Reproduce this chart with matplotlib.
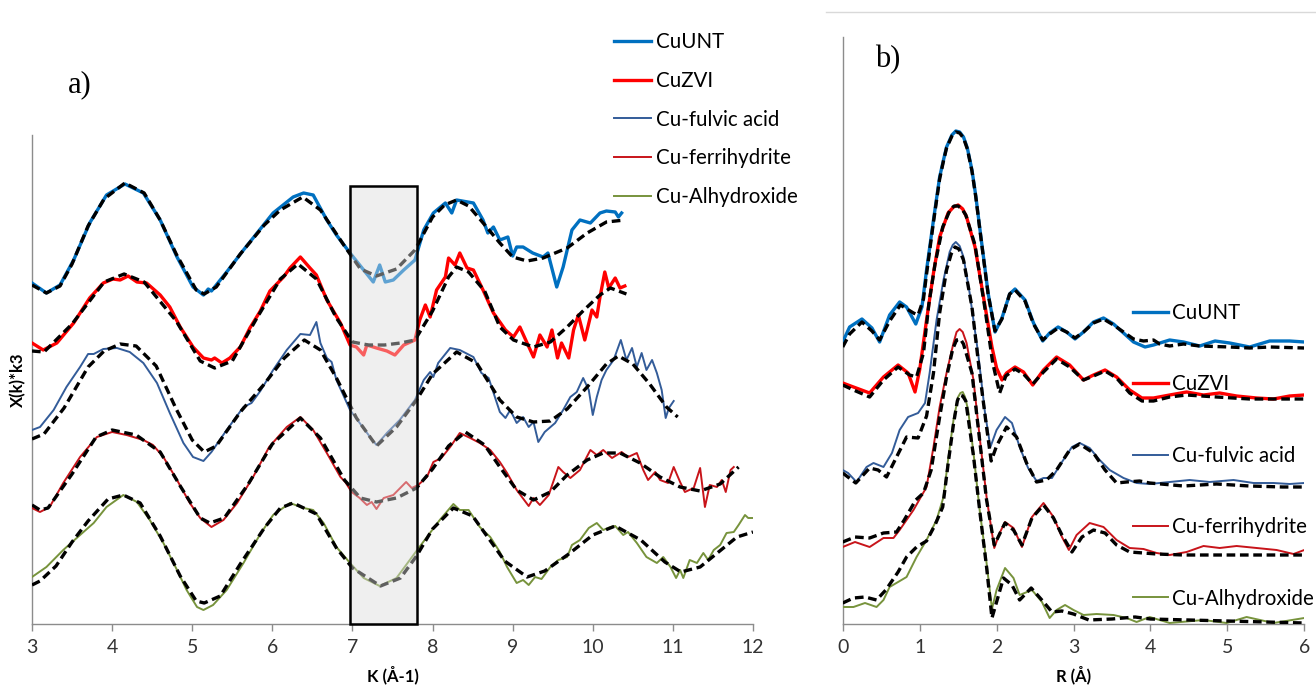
import matplotlib
matplotlib.use('Agg')
import matplotlib.pyplot as plt
from matplotlib.patches import Rectangle
from matplotlib.lines import Line2D

# ---- a) k-space EXAFS, k^3-weighted, offset stacked (arb. units) ----
k_unt = [3.00, 3.18, 3.35, 3.52, 3.72, 3.93, 4.16, 4.39, 4.60, 4.81, 5.01, 5.14, 5.20, 5.24, 5.43, 5.64,
         5.85, 6.01, 6.26, 6.39, 6.51, 6.68, 6.80, 6.97, 7.09, 7.26, 7.34, 7.41, 7.51, 7.64, 7.78, 7.89,
         8.01, 8.16, 8.24, 8.30, 8.51, 8.63, 8.69, 8.76, 8.84, 8.94, 9.00, 9.05, 9.13, 9.25, 9.38, 9.44,
         9.55, 9.63, 9.74, 9.84, 9.97, 10.09, 10.17, 10.28, 10.32, 10.36]
chi_unt = [34.1, 33.1, 33.9, 36.4, 40.1, 42.9, 44.0, 43.1, 40.4, 36.7, 33.7, 32.9, 33.5, 33.3, 35.2, 37.4,
           39.5, 41.1, 42.7, 43.1, 42.9, 40.4, 38.9, 37.1, 35.9, 34.2, 35.9, 34.2, 34.4, 35.4, 36.4, 39.4,
           41.1, 42.1, 41.1, 42.4, 42.1, 40.4, 39.1, 39.7, 38.4, 38.7, 36.8, 37.7, 37.7, 37.1, 36.7, 37.1,
           33.7, 35.7, 39.4, 40.4, 40.1, 41.1, 41.3, 41.2, 40.7, 41.1]
k_unt_fit = [3.00, 3.18, 3.35, 3.50, 3.70, 3.90, 4.16, 4.40, 4.60, 4.80, 5.05, 5.15, 5.30, 5.60, 5.90, 6.10,
             6.38, 6.60, 6.90, 7.10, 7.30, 7.55, 7.78, 8.00, 8.15, 8.30, 8.45, 8.60, 8.84, 9.00, 9.18, 9.38,
             9.68, 9.93, 10.17, 10.40]
chi_unt_fit = [33.9, 33.1, 33.8, 36.0, 39.8, 42.5, 44.1, 43.1, 40.4, 37.0, 33.4, 33.0, 33.7, 37.0, 39.9, 41.4,
               42.7, 41.4, 37.8, 35.5, 34.8, 35.5, 37.4, 40.7, 41.9, 42.4, 41.8, 40.4, 38.1, 36.7, 36.3, 36.6,
               37.6, 39.1, 40.2, 40.4]

k_zvi = [3.00, 3.14, 3.31, 3.52, 3.72, 3.89, 4.01, 4.10, 4.20, 4.31, 4.43, 4.60, 4.72, 4.85, 5.01, 5.14,
         5.24, 5.28, 5.37, 5.47, 5.60, 5.72, 5.85, 5.97, 6.14, 6.22, 6.35, 6.47, 6.55, 6.68, 6.85, 6.97,
         7.05, 7.14, 7.18, 7.30, 7.43, 7.53, 7.64, 7.78, 7.84, 7.91, 7.97, 8.05, 8.16, 8.20, 8.28, 8.34,
         8.43, 8.51, 8.63, 8.76, 8.84, 8.91, 9.01, 9.09, 9.18, 9.26, 9.34, 9.43, 9.49, 9.56, 9.61, 9.70,
         9.76, 9.82, 9.90, 9.99, 10.05, 10.09, 10.15, 10.20, 10.28, 10.34, 10.40]
chi_zvi = [28.1, 27.4, 28.1, 30.1, 32.6, 34.1, 34.5, 34.4, 34.8, 34.2, 34.1, 32.9, 31.7, 29.7, 27.7, 26.6,
           26.4, 26.6, 26.1, 26.6, 27.7, 29.6, 31.3, 33.3, 34.7, 35.6, 36.7, 35.6, 34.9, 32.4, 30.1, 27.9,
           27.7, 26.9, 27.9, 27.6, 27.3, 26.9, 27.9, 28.4, 30.4, 31.9, 30.7, 33.4, 34.7, 36.6, 35.9, 37.1,
           35.6, 35.4, 33.4, 31.1, 30.2, 29.4, 28.7, 29.7, 28.1, 26.7, 28.9, 27.7, 29.4, 26.6, 28.1, 26.6,
           29.4, 30.9, 28.4, 31.4, 30.7, 32.7, 35.2, 33.6, 34.6, 33.6, 33.8]
k_zvi_fit = [3.00, 3.15, 3.50, 3.90, 4.15, 4.40, 4.80, 5.10, 5.28, 5.50, 5.80, 6.10, 6.32, 6.55, 6.80, 7.00,
             7.20, 7.40, 7.60, 7.78, 8.00, 8.20, 8.30, 8.45, 8.65, 8.84, 9.01, 9.26, 9.47, 9.68, 9.89, 10.09,
             10.22, 10.42]
chi_zvi_fit = [27.3, 27.2, 30.0, 34.2, 35.0, 34.2, 30.3, 26.3, 25.6, 26.3, 30.5, 34.5, 36.0, 34.5, 30.6, 28.2,
               27.9, 27.9, 28.1, 28.4, 31.3, 34.7, 35.7, 35.2, 33.3, 29.7, 28.4, 27.7, 28.2, 29.7, 31.4, 32.9,
               33.6, 33.0]

k_fa = [3.00, 3.10, 3.27, 3.43, 3.60, 3.70, 3.77, 3.89, 4.06, 4.22, 4.39, 4.56, 4.72, 4.89, 5.01, 5.14,
        5.24, 5.43, 5.64, 5.74, 5.85, 6.01, 6.18, 6.35, 6.47, 6.55, 6.60, 6.68, 6.74, 6.80, 6.97, 7.09,
        7.22, 7.30, 7.43, 7.59, 7.78, 7.89, 7.97, 8.01, 8.07, 8.22, 8.34, 8.51, 8.61, 8.70, 8.84, 8.91,
        8.97, 9.05, 9.13, 9.20, 9.26, 9.32, 9.40, 9.53, 9.63, 9.72, 9.80, 9.88, 9.95, 10.00, 10.05, 10.11,
        10.17, 10.26, 10.35, 10.42, 10.49, 10.55, 10.61, 10.67, 10.74, 10.80, 10.86, 10.91, 10.95, 11.01]
chi_fa = [19.4, 19.7, 21.4, 23.7, 25.7, 27.0, 27.0, 27.5, 27.6, 27.2, 26.1, 24.1, 21.1, 18.1, 16.7, 16.3,
          17.2, 19.4, 21.7, 22.1, 23.3, 25.4, 27.4, 29.0, 28.9, 30.2, 28.1, 26.6, 26.2, 24.4, 21.4, 20.1,
          18.7, 17.9, 19.1, 20.4, 22.4, 24.4, 25.2, 24.7, 26.1, 27.6, 27.4, 26.7, 25.1, 24.6, 21.2, 20.6,
          21.4, 20.1, 20.7, 19.7, 20.2, 18.2, 19.2, 20.1, 21.4, 22.7, 23.2, 24.6, 23.4, 20.9, 22.7, 24.4,
          25.4, 26.4, 28.4, 26.4, 27.6, 25.7, 27.1, 25.4, 26.4, 25.1, 23.4, 20.6, 21.6, 22.3]
k_fa_fit = [3.00, 3.15, 3.40, 3.70, 3.90, 4.10, 4.30, 4.55, 4.80, 5.00, 5.15, 5.30, 5.60, 5.90, 6.15, 6.40,
            6.60, 6.80, 7.05, 7.30, 7.55, 7.80, 8.00, 8.30, 8.55, 8.84, 9.05, 9.26, 9.47, 9.68, 9.93, 10.17,
            10.32, 10.50, 10.71, 10.92, 11.06]
chi_fa_fit = [18.5, 19.0, 21.6, 25.7, 27.3, 28.0, 27.8, 25.8, 21.5, 18.4, 17.2, 17.8, 21.2, 24.0, 26.6, 28.4,
              27.4, 24.6, 20.6, 17.8, 19.7, 22.4, 25.0, 27.2, 26.1, 22.4, 20.7, 20.2, 20.3, 21.5, 23.7, 26.0,
              26.8, 26.0, 24.0, 21.7, 20.7]

k_fh = [3.00, 3.10, 3.22, 3.39, 3.60, 3.81, 4.00, 4.18, 4.39, 4.51, 4.64, 4.81, 4.97, 5.10, 5.24, 5.39,
        5.56, 5.76, 5.96, 6.18, 6.35, 6.51, 6.68, 6.85, 6.91, 6.99, 7.09, 7.18, 7.24, 7.30, 7.39, 7.51,
        7.67, 7.74, 7.82, 7.93, 8.01, 8.11, 8.22, 8.34, 8.47, 8.59, 8.72, 8.84, 8.93, 9.05, 9.20, 9.26,
        9.34, 9.45, 9.57, 9.63, 9.72, 9.84, 9.97, 10.05, 10.13, 10.24, 10.36, 10.44, 10.55, 10.63, 10.69, 10.78,
        10.84, 10.94, 11.01, 11.09, 11.15, 11.26, 11.34, 11.40, 11.46, 11.55, 11.61, 11.66, 11.72, 11.76]
chi_fh = [11.6, 11.2, 11.7, 14.1, 16.7, 18.7, 19.2, 18.9, 18.4, 17.9, 16.7, 14.4, 12.1, 10.6, 9.7, 10.4,
          12.1, 14.7, 17.7, 19.7, 20.7, 19.4, 17.1, 14.7, 14.2, 13.2, 12.6, 11.9, 12.2, 11.5, 12.6, 12.9,
          14.2, 13.6, 13.9, 14.7, 16.2, 16.6, 17.7, 19.1, 18.6, 18.1, 17.4, 16.2, 15.1, 13.4, 11.8, 12.6,
          11.9, 12.9, 15.7, 15.2, 14.6, 15.4, 17.4, 16.9, 17.4, 16.6, 17.2, 16.7, 17.1, 15.4, 14.4, 15.2,
          14.4, 14.1, 15.7, 14.2, 13.2, 13.6, 15.6, 11.7, 13.9, 13.7, 14.4, 13.2, 15.4, 15.7]
k_fh_fit = [3.00, 3.10, 3.20, 3.50, 3.80, 4.00, 4.30, 4.60, 4.85, 5.10, 5.22, 5.40, 5.70, 6.00, 6.35, 6.60,
            6.90, 7.10, 7.30, 7.55, 7.80, 8.00, 8.20, 8.41, 8.65, 8.84, 9.05, 9.26, 9.47, 9.68, 9.93, 10.13,
            10.34, 10.59, 10.84, 11.09, 11.34, 11.59, 11.82]
chi_fh_fit = [11.9, 11.4, 11.6, 15.0, 18.7, 19.4, 18.9, 17.2, 13.8, 10.6, 10.1, 10.6, 14.0, 18.0, 20.6, 18.6,
              14.4, 12.6, 12.2, 12.6, 13.6, 15.5, 17.8, 19.2, 17.9, 15.7, 13.4, 12.4, 13.2, 14.9, 16.4, 17.1,
              17.1, 16.1, 14.7, 13.7, 13.3, 14.0, 15.7]

k_al = [3.00, 3.18, 3.39, 3.60, 3.77, 3.93, 4.14, 4.31, 4.47, 4.64, 4.81, 4.93, 5.06, 5.14, 5.26, 5.43,
        5.64, 5.85, 6.01, 6.22, 6.39, 6.51, 6.64, 6.80, 6.97, 7.14, 7.34, 7.55, 7.78, 7.93, 8.09, 8.26,
        8.34, 8.45, 8.59, 8.72, 8.84, 8.93, 9.05, 9.13, 9.20, 9.28, 9.36, 9.47, 9.57, 9.68, 9.74, 9.84,
        9.95, 10.05, 10.13, 10.22, 10.28, 10.38, 10.44, 10.55, 10.67, 10.80, 10.88, 10.97, 11.04, 11.09, 11.13, 11.21,
        11.30, 11.38, 11.44, 11.51, 11.59, 11.67, 11.76, 11.82, 11.90, 11.94, 12.00]
chi_al = [4.7, 5.7, 7.4, 8.9, 10.1, 11.7, 12.9, 12.2, 10.4, 8.1, 5.4, 3.4, 1.7, 1.4, 1.9, 3.4,
          6.1, 9.0, 10.9, 12.1, 11.6, 11.4, 10.1, 7.7, 6.1, 4.6, 3.8, 4.6, 7.1, 8.7, 10.4, 12.0,
          11.4, 11.4, 9.7, 8.7, 7.2, 5.7, 4.1, 4.4, 3.9, 4.7, 4.5, 5.7, 6.4, 6.7, 7.9, 8.4,
          9.6, 10.1, 9.4, 9.7, 9.8, 8.9, 9.2, 8.1, 6.7, 6.1, 6.7, 5.7, 4.6, 5.4, 4.6, 6.4,
          6.1, 7.1, 6.4, 7.4, 7.9, 9.1, 9.2, 9.9, 10.9, 10.6, 10.6]
k_al_fit = [3.00, 3.10, 3.30, 3.50, 3.70, 3.95, 4.14, 4.35, 4.60, 4.85, 5.05, 5.15, 5.35, 5.60, 5.90, 6.10,
            6.26, 6.55, 6.80, 7.00, 7.35, 7.60, 7.80, 8.00, 8.26, 8.50, 8.75, 8.90, 9.18, 9.40, 9.70, 10.00,
            10.28, 10.60, 10.90, 11.10, 11.34, 11.60, 11.80, 12.00]
chi_al_fit = [3.9, 4.3, 5.8, 8.2, 10.3, 12.5, 12.9, 12.1, 8.8, 4.8, 2.3, 2.1, 2.8, 6.0, 9.6, 11.6,
              12.1, 11.0, 7.6, 5.6, 3.8, 4.6, 6.8, 9.5, 11.6, 10.8, 8.0, 6.3, 4.7, 5.3, 7.0, 8.9,
              9.8, 8.4, 6.2, 5.2, 5.7, 7.4, 8.7, 9.2]

# ---- b) Fourier transform magnitude, offset stacked (arb. units) ----
r_unt = [0.00, 0.09, 0.25, 0.38, 0.48, 0.61, 0.74, 0.83, 0.95, 1.03, 1.09, 1.18, 1.26, 1.31, 1.35, 1.42,
         1.47, 1.52, 1.57, 1.62, 1.68, 1.73, 1.78, 1.89, 1.98, 2.07, 2.17, 2.24, 2.37, 2.48, 2.60, 2.69,
         2.80, 2.91, 3.02, 3.13, 3.26, 3.39, 3.52, 3.65, 3.78, 3.93, 4.04, 4.25, 4.43, 4.64, 4.84, 5.03,
         5.29, 5.55, 5.81, 6.00]
ft_unt = [28.2, 29.7, 30.5, 29.6, 28.2, 30.9, 32.2, 31.7, 30.0, 31.7, 35.4, 40.4, 44.7, 46.4, 47.7, 48.9,
          49.3, 49.2, 48.7, 47.6, 45.4, 42.8, 39.7, 33.1, 29.2, 30.6, 33.0, 33.5, 32.4, 30.1, 28.3, 29.1,
          29.7, 29.2, 28.5, 29.2, 30.2, 30.6, 30.0, 29.1, 28.2, 27.7, 27.9, 28.4, 28.2, 27.8, 28.3, 28.1,
          27.7, 28.3, 28.3, 28.2]
r_unt_fit = [0.00, 0.09, 0.25, 0.38, 0.48, 0.61, 0.75, 0.92, 0.98, 1.05, 1.09, 1.18, 1.26, 1.31, 1.35, 1.42,
             1.47, 1.52, 1.57, 1.62, 1.68, 1.73, 1.78, 1.89, 1.98, 2.07, 2.17, 2.24, 2.37, 2.48, 2.60, 2.69,
             2.80, 2.91, 3.02, 3.13, 3.26, 3.39, 3.52, 3.65, 3.78, 3.91, 4.04, 4.12, 4.25, 4.43, 4.64, 5.03,
             5.29, 5.55, 6.00]
ft_unt_fit = [27.7, 29.0, 30.2, 29.3, 28.4, 30.3, 31.9, 31.1, 30.9, 32.5, 35.0, 40.2, 44.5, 46.3, 47.6, 48.8,
              49.2, 49.1, 48.6, 47.5, 45.3, 42.7, 39.6, 33.0, 29.3, 30.5, 33.0, 33.4, 32.3, 30.0, 28.4, 29.0,
              29.6, 29.2, 28.6, 29.2, 30.1, 30.5, 29.9, 29.2, 28.5, 28.3, 28.4, 28.0, 27.8, 28.0, 27.8, 27.7,
              27.6, 27.7, 27.6]

r_zvi = [0.00, 0.14, 0.35, 0.53, 0.72, 0.85, 0.94, 1.00, 1.09, 1.18, 1.26, 1.37, 1.44, 1.50, 1.56, 1.61,
         1.72, 1.83, 1.94, 2.00, 2.07, 2.13, 2.24, 2.35, 2.47, 2.61, 2.78, 2.95, 3.13, 3.26, 3.41, 3.56,
         3.73, 3.89, 4.04, 4.25, 4.47, 4.69, 4.90, 5.12, 5.38, 5.60, 5.81, 6.00]
ft_zvi = [24.1, 23.7, 23.1, 24.7, 25.9, 25.1, 23.2, 25.4, 30.4, 35.1, 38.7, 41.1, 41.7, 41.9, 41.5, 40.7,
          37.7, 32.7, 27.7, 25.6, 24.4, 25.1, 25.7, 25.2, 23.9, 25.4, 26.7, 25.9, 24.4, 24.9, 25.4, 24.7,
          23.4, 22.6, 22.6, 22.9, 23.2, 22.9, 23.1, 22.8, 22.6, 22.5, 22.8, 22.9]
r_zvi_fit = [0.00, 0.14, 0.35, 0.53, 0.72, 0.87, 0.96, 1.05, 1.12, 1.20, 1.30, 1.40, 1.45, 1.50, 1.55, 1.60,
             1.72, 1.85, 1.95, 2.04, 2.12, 2.24, 2.35, 2.47, 2.61, 2.78, 2.95, 3.13, 3.26, 3.41, 3.56, 3.73,
             3.89, 4.04, 4.25, 4.47, 4.86, 5.29, 5.72, 6.00]
ft_zvi_fit = [23.9, 23.4, 22.7, 24.4, 25.7, 24.9, 24.7, 27.1, 32.0, 36.0, 39.7, 41.5, 41.8, 41.8, 41.5, 40.9,
              37.9, 31.5, 26.1, 23.1, 24.8, 25.5, 25.0, 24.0, 25.2, 26.5, 25.7, 24.4, 24.8, 25.3, 24.6, 23.1,
              22.3, 22.3, 22.7, 22.9, 22.7, 22.5, 22.5, 22.5]

r_fa = [0.00, 0.07, 0.18, 0.31, 0.40, 0.53, 0.64, 0.74, 0.85, 0.98, 1.07, 1.13, 1.22, 1.31, 1.39, 1.43,
        1.47, 1.52, 1.57, 1.65, 1.76, 1.85, 1.92, 2.00, 2.11, 2.20, 2.30, 2.41, 2.52, 2.61, 2.72, 2.85,
        2.98, 3.08, 3.21, 3.34, 3.47, 3.65, 3.82, 3.99, 4.25, 4.51, 4.77, 5.08, 5.34, 5.60, 5.81, 6.00]
ft_fa = [15.4, 15.1, 14.2, 15.7, 16.1, 15.7, 17.1, 19.4, 20.7, 21.1, 22.1, 25.1, 30.4, 34.4, 37.2, 37.9,
         38.2, 37.8, 36.7, 33.1, 27.1, 21.1, 17.7, 19.4, 20.7, 20.1, 17.7, 15.6, 14.3, 14.6, 14.6, 16.2,
         17.7, 18.1, 17.6, 16.4, 15.4, 14.6, 14.1, 14.0, 14.2, 14.4, 14.2, 14.4, 14.1, 14.1, 14.0, 14.1]
r_fa_fit = [0.00, 0.17, 0.35, 0.46, 0.57, 0.70, 0.83, 0.98, 1.09, 1.18, 1.26, 1.35, 1.41, 1.46, 1.51, 1.57,
            1.68, 1.78, 1.87, 1.93, 2.00, 2.13, 2.26, 2.39, 2.52, 2.65, 2.78, 2.95, 3.08, 3.26, 3.41, 3.56,
            3.69, 3.86, 3.99, 4.43, 4.86, 5.29, 5.72, 6.00]
ft_fa_fit = [15.1, 14.1, 15.6, 15.4, 14.7, 16.7, 18.7, 18.6, 20.8, 25.1, 31.1, 35.4, 37.0, 37.7, 37.5, 36.4,
             31.7, 25.1, 19.7, 16.3, 17.8, 19.7, 18.7, 16.1, 14.2, 14.4, 15.4, 17.4, 18.0, 17.1, 15.4, 14.1,
             14.2, 14.3, 14.1, 13.8, 14.0, 13.8, 13.7, 13.7]

r_fh = [0.00, 0.16, 0.35, 0.53, 0.66, 0.74, 0.92, 1.09, 1.18, 1.26, 1.35, 1.44, 1.48, 1.52, 1.56, 1.61,
        1.70, 1.78, 1.87, 1.97, 2.04, 2.11, 2.22, 2.33, 2.46, 2.61, 2.74, 2.85, 2.94, 3.04, 3.21, 3.39,
        3.56, 3.73, 3.91, 4.08, 4.25, 4.47, 4.69, 4.90, 5.12, 5.38, 5.64, 5.86, 6.00]
ft_fh = [7.7, 8.2, 7.7, 8.6, 8.6, 9.4, 11.4, 13.7, 17.7, 21.7, 25.1, 28.1, 29.2, 29.5, 29.2, 28.1,
         24.4, 18.7, 12.7, 7.6, 9.1, 10.2, 9.6, 7.7, 10.7, 12.1, 10.7, 8.7, 7.4, 8.9, 10.1, 9.7,
         8.4, 7.6, 7.5, 7.1, 6.9, 7.2, 7.8, 7.6, 7.8, 7.6, 7.4, 7.0, 7.4]
r_fh_fit = [0.00, 0.16, 0.35, 0.53, 0.70, 0.80, 0.95, 1.05, 1.15, 1.26, 1.35, 1.43, 1.48, 1.53, 1.57, 1.68,
            1.78, 1.87, 1.97, 2.11, 2.22, 2.33, 2.46, 2.61, 2.74, 2.85, 2.98, 3.11, 3.26, 3.41, 3.56, 3.73,
            3.91, 4.08, 4.43, 4.86, 5.29, 6.00]
ft_fh_fit = [8.2, 8.7, 8.6, 9.1, 9.2, 10.4, 12.4, 13.1, 15.4, 20.7, 24.7, 27.5, 28.4, 28.5, 28.0, 25.1,
             18.4, 12.4, 7.9, 10.1, 9.4, 7.9, 10.6, 11.9, 10.6, 8.9, 7.2, 8.7, 9.4, 9.1, 7.9, 7.2,
             7.1, 7.0, 6.9, 6.9, 6.9, 6.9]

r_al = [0.00, 0.14, 0.29, 0.44, 0.53, 0.61, 0.72, 0.83, 0.96, 1.09, 1.22, 1.31, 1.37, 1.44, 1.50, 1.53,
        1.56, 1.59, 1.63, 1.70, 1.78, 1.87, 1.94, 2.00, 2.11, 2.22, 2.30, 2.46, 2.59, 2.69, 2.78, 2.89,
        3.00, 3.13, 3.30, 3.52, 3.69, 3.82, 3.99, 4.25, 4.69, 4.99, 5.25, 5.60, 6.00]
ft_al = [1.7, 1.7, 2.1, 1.7, 2.4, 3.7, 4.2, 4.7, 6.7, 8.4, 10.4, 12.7, 16.4, 20.4, 22.7, 23.1,
         23.2, 22.7, 21.4, 17.1, 11.4, 6.1, 1.5, 3.4, 5.6, 4.6, 2.9, 3.4, 2.2, 0.6, 1.4, 1.9,
         1.4, 0.9, 1.0, 0.9, 0.6, 0.2, 0.7, 0.1, 0.4, 0.1, 0.7, 0.1, 0.6]
r_al_fit = [0.00, 0.14, 0.29, 0.44, 0.56, 0.72, 0.83, 0.96, 1.09, 1.20, 1.30, 1.37, 1.44, 1.49, 1.52, 1.56,
            1.60, 1.70, 1.78, 1.87, 1.94, 2.00, 2.09, 2.20, 2.30, 2.45, 2.60, 2.72, 2.85, 3.00, 3.20, 3.50,
            3.80, 4.00, 4.50, 5.00, 5.50, 6.00]
ft_al_fit = [2.1, 2.6, 2.7, 2.4, 3.4, 5.2, 6.7, 7.7, 8.3, 9.9, 11.7, 16.0, 20.0, 22.3, 22.9, 22.8,
             22.3, 16.8, 11.4, 5.7, 0.6, 2.2, 4.6, 3.9, 2.4, 3.6, 2.3, 1.2, 1.3, 1.0, 0.4, 0.5,
             0.7, 0.5, 0.4, 0.3, 0.2, 0.1]

labels = ['CuUNT', 'CuZVI', 'Cu-fulvic acid', 'Cu-ferrihydrite', 'Cu-Alhydroxide']
colors = ['#0070c0', '#ff0000', '#335c99', '#c8141a', '#77933c']
widths = [2.4, 2.4, 1.4, 1.4, 1.4]

plt.rcParams['font.family'] = ['Lato', 'DejaVu Sans']

fig = plt.figure(figsize=(13.16, 6.89), dpi=100)
ax1 = fig.add_axes([32 / 1316, 65 / 689, 721 / 1316, 489 / 689])
ax2 = fig.add_axes([842.7 / 1316, 65 / 689, 461.6 / 1316, 587.3 / 689])

fit_style = dict(color='black', lw=2.4, ls=(0, (2.6, 1.4)), zorder=4)

k_data = [(k_unt, chi_unt), (k_zvi, chi_zvi), (k_fa, chi_fa), (k_fh, chi_fh), (k_al, chi_al)]
k_fits = [(k_unt_fit, chi_unt_fit), (k_zvi_fit, chi_zvi_fit), (k_fa_fit, chi_fa_fit),
          (k_fh_fit, chi_fh_fit), (k_al_fit, chi_al_fit)]
r_data = [(r_unt, ft_unt), (r_zvi, ft_zvi), (r_fa, ft_fa), (r_fh, ft_fh), (r_al, ft_al)]
r_fits = [(r_unt_fit, ft_unt_fit), (r_zvi_fit, ft_zvi_fit), (r_fa_fit, ft_fa_fit),
          (r_fh_fit, ft_fh_fit), (r_al_fit, ft_al_fit)]

handles_a = []
handles_b = []
for i in range(5):
    h, = ax1.plot(*k_data[i], color=colors[i], lw=widths[i], label=labels[i], zorder=3)
    ax1.plot(*k_fits[i], **fit_style)
    handles_a.append(h)
    h, = ax2.plot(*r_data[i], color=colors[i], lw=widths[i], label=labels[i], zorder=3)
    ax2.plot(*r_fits[i], **fit_style)
    handles_b.append(h)

# shaded window 7.0-7.8 1/A: solid background plus a veil over the curves
ax1.add_patch(Rectangle((6.97, 0), 0.84, 43.8, facecolor='#efefef', edgecolor='none', zorder=1))
ax1.add_patch(Rectangle((6.97, 0), 0.84, 43.8, facecolor='#efefef', alpha=0.4,
                        edgecolor='none', zorder=5, clip_on=False))
ax1.add_patch(Rectangle((6.97, 0), 0.84, 43.8, fill=False, edgecolor='black', lw=1.8,
                        zorder=6, clip_on=False))

for ax in (ax1, ax2):
    for side in ('top', 'right'):
        ax.spines[side].set_visible(False)
    for side in ('left', 'bottom'):
        ax.spines[side].set_color('#8c8c8c')
        ax.spines[side].set_linewidth(1.0)
    ax.set_yticks([])
    ax.tick_params(axis='x', direction='out', length=5, width=1, color='#8c8c8c',
                   labelsize=14, labelcolor='#333333', pad=6)

ax1.set_xlim(3, 12)
ax1.set_ylim(0, 48.9)
ax1.set_xticks(range(3, 13))
ax1.set_xlabel('K (Å-1)', fontsize=12, fontweight='bold', labelpad=7)
ax1.set_ylabel('X(k)*k3', fontsize=12, fontweight='bold')
ax1.yaxis.set_label_coords(-0.008, 0.5)

ax2.set_xlim(0, 6)
ax2.set_ylim(0, 58.73)
ax2.set_xticks(range(0, 7))
ax2.set_xlabel('R (Å)', fontsize=12, fontweight='bold', labelpad=7)

ax1.legend(handles=handles_a, loc='upper left', bbox_to_anchor=(614 / 1316, 1 - 32 / 689),
           bbox_transform=fig.transFigure, frameon=False, fontsize=14.8, borderpad=0,
           borderaxespad=0, handlelength=1.8, handletextpad=0.22, labelspacing=0.915)
ax2.legend(handles=handles_b, loc='upper left', bbox_to_anchor=(1133 / 1316, 1 - 303 / 689),
           bbox_transform=fig.transFigure, frameon=False, fontsize=14.8, borderpad=0,
           borderaxespad=0, handlelength=1.7, handletextpad=0.22, labelspacing=2.5)

fig.text(80 / 1316, 1 - 85 / 689, 'a)', fontsize=22, family='Liberation Serif', va='center', ha='center')
fig.text(888 / 1316, 1 - 60 / 689, 'b)', fontsize=22, family='Liberation Serif', va='center', ha='center')

# thin frame line along the top of panel b
fig.add_artist(Line2D([826 / 1316, 1.0], [1 - 12.3 / 689] * 2, color='#d9d9d9', lw=1.0))

fig.savefig('out.png', dpi=100)
